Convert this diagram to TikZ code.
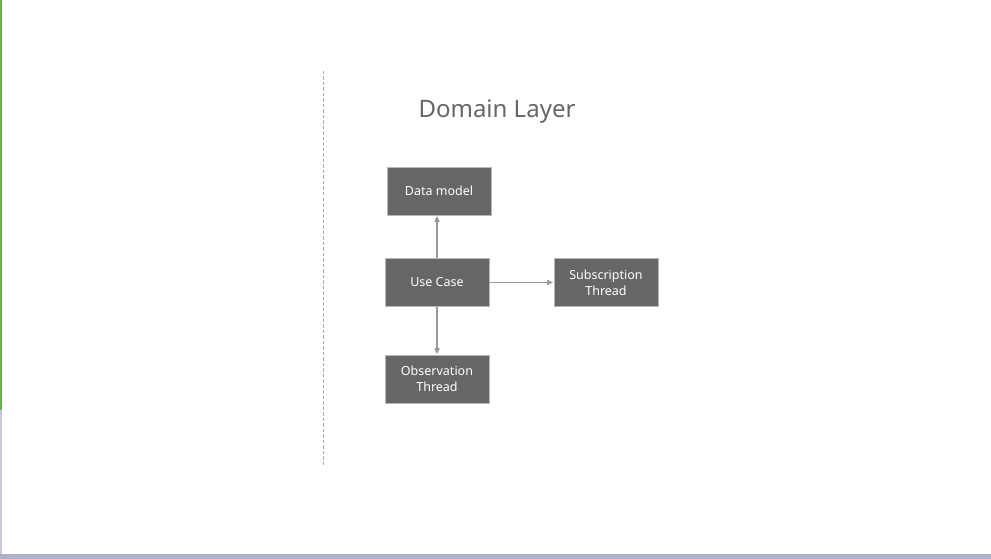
\documentclass[tikz,border=0pt]{standalone}
\usepackage{fontspec}
\setmainfont{Noto Sans}
\usetikzlibrary{arrows.meta}
\definecolor{boxgray}{HTML}{666666}
\definecolor{boxedge}{HTML}{B8B8B8}
\definecolor{linegray}{HTML}{9A9A9A}
\definecolor{titlegray}{HTML}{666666}
\definecolor{barblue}{HTML}{AEB2C8}
\definecolor{bargreen}{HTML}{6AAF48}
\tikzset{
	block/.style={draw=boxedge, line width=0.6pt, fill=boxgray, text=white,
		minimum width=104pt, minimum height=48pt, align=center,
		font=\fontsize{12.5}{16}\selectfont},
	link/.style={draw=linegray, line width=1.8pt,
		-{Triangle[length=6pt,width=5pt]}, shorten >=0.5pt}
}
\begin{document}
\begin{tikzpicture}[x=1pt, y=-1pt]
				\useasboundingbox (0, 0) rectangle (991, 559);
				\fill[white] (0, 0) rectangle (991, 559);
				\fill[bargreen] (0, 0) rectangle (2, 410);
				\fill[barblue!70] (0, 410) rectangle (1.5, 554);
				\fill[barblue] (0, 554) rectangle (991, 559);
				\draw[linegray!85, line width=1pt, dash pattern=on 3.5pt off 2pt] (323, 71) -- (323, 466);
				\node[text=titlegray, font=\fontsize{24}{28}\selectfont] (title) at (497, 112) {Domain Layer};
				\node[block] (dm) at (439, 191) {Data model};
				\node[block] (uc) at (437, 282.5) {Use Case};
				\node[block] (st) at (606, 282.5) {Subscription\\Thread};
				\node[block] (ot) at (437, 379) {Observation\\Thread};
				\draw[link] (uc.north) to (uc.north |- dm.south);
				\draw[link] (uc) to (st);
				\draw[link] (uc) to (ot);
			\end{tikzpicture}
\end{document}
